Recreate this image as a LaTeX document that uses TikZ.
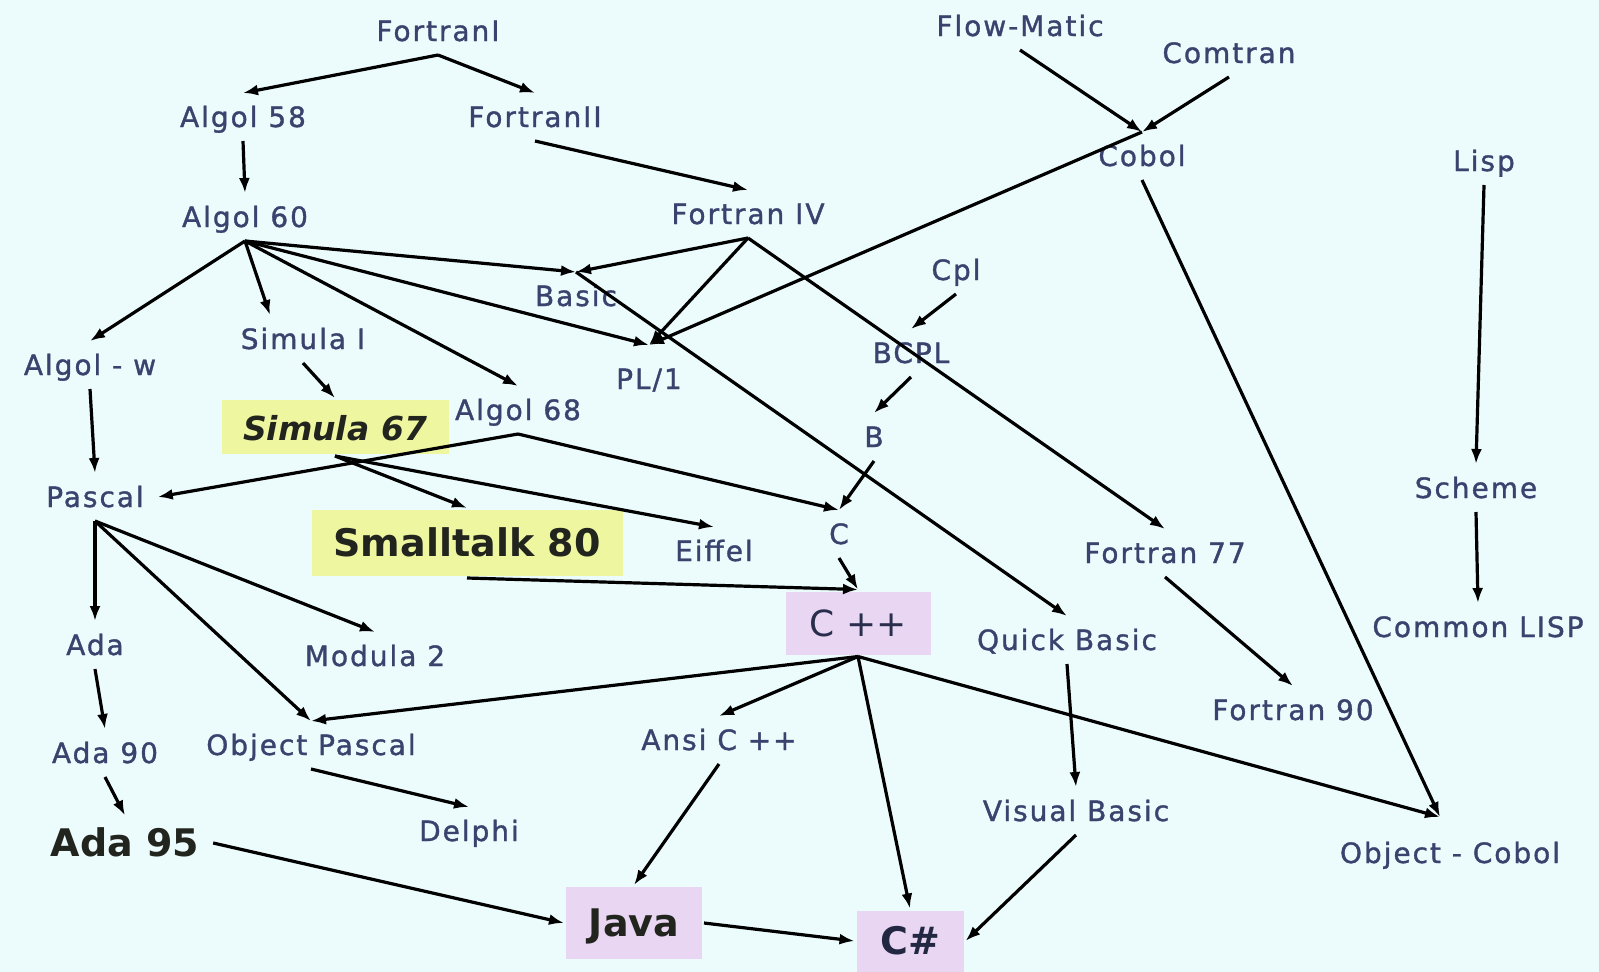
\documentclass[tikz,border=0pt]{standalone}
\usepackage{fontspec}
\setmainfont{DejaVu Sans}[LetterSpace=7,FakeBold=1.2]
\newfontfamily\plainfam{DejaVu Sans}[BoldFont={DejaVu Sans Bold},ItalicFont={DejaVu Sans Oblique},BoldItalicFont={DejaVu Sans Bold Oblique}]
\usetikzlibrary{arrows.meta,positioning}
\tikzset{>={Latex[length=15pt,width=11pt]}}
\definecolor{bgcyan}{RGB}{236,251,252}
\definecolor{langblue}{RGB}{58,66,110}
\definecolor{darktext}{RGB}{34,36,30}
\definecolor{hiyellow}{RGB}{238,246,160}
\definecolor{hililac}{RGB}{232,214,242}

\begin{document}
\begin{tikzpicture}[x=1pt,y=-1pt,
    lang/.style={text=langblue,font=\fontsize{28}{32}\selectfont,text height=20pt,text depth=0pt,inner sep=3pt,outer sep=11pt},
    hot/.style={text=darktext,font=\plainfam\bfseries\fontsize{38}{44}\selectfont,text height=27pt,text depth=0pt,inner sep=3pt,outer sep=11pt},
    boxed/.style={hot,fill=#1,inner sep=0pt,outer sep=2pt},
    link/.style={->,line width=3.2pt}]

        \path[use as bounding box,fill=bgcyan] (0,0) rectangle (1599,972);

        % nodes
        \node[lang] (f1) at (438,31) {FortranI};
        \node[lang] (a58) at (243,117) {Algol 58};
        \node[lang] (f2) at (535,117) {FortranII};
        \node[lang] (flow) at (1020,26) {Flow-Matic};
        \node[lang] (comtran) at (1229,53) {Comtran};
        \node[lang] (cobol) at (1142,156) {Cobol};
        \node[lang] (lisp) at (1484,161) {Lisp};
        \node[lang] (a60) at (245,217) {Algol 60};
        \node[lang] (f4) at (748,214) {Fortran IV};
        \node[lang] (cpl) at (956,270) {Cpl};
        \node[lang] (basic) at (576,296) {Basic};
        \node[lang] (algw) at (90,365) {Algol - w};
        \node[lang] (sim1) at (303,339) {Simula I};
        \node[lang] (pl1) at (649,379) {PL/1};
        \node[lang] (bcpl) at (911,353) {BCPL};
        \node[lang] (a68) at (518,410) {Algol 68};
        \node[boxed=hiyellow,minimum width=227pt,minimum height=54pt,font=\plainfam\bfseries\itshape\fontsize{33}{38}\selectfont] (sim67) at (335,427) {Simula 67};
        \node[lang] (b) at (874,437) {B};
        \node[lang] (pascal) at (95,497) {Pascal};
        \node[lang] (scheme) at (1476,488) {Scheme};
        \node[boxed=hiyellow,minimum width=311pt,minimum height=66pt] (st80) at (467,543) {Smalltalk 80};
        \node[lang] (eiffel) at (714,551) {Eiffel};
        \node[lang] (c) at (839,534) {C};
        \node[lang] (f77) at (1165,553) {Fortran 77};
        \node[boxed=hililac,minimum width=145pt,minimum height=63pt,font=\plainfam\fontsize{36}{42}\selectfont,text=langblue!70!black] (cpp) at (858,623) {C ++};
        \node[lang] (qbasic) at (1067,640) {Quick Basic};
        \node[lang] (clisp) at (1478,627) {Common LISP};
        \node[lang] (ada) at (95,645) {Ada};
        \node[lang] (mod2) at (375,656) {Modula 2};
        \node[lang] (f90) at (1293,710) {Fortran 90};
        \node[lang] (ada90) at (105,753) {Ada 90};
        \node[lang] (opascal) at (311,745) {Object Pascal};
        \node[lang] (ansi) at (719,740) {Ansi C ++};
        \node[lang] (vbasic) at (1076,811) {Visual Basic};
        \node[lang] (ocobol) at (1450,853) {Object - Cobol};
        \node[lang] (delphi) at (469,831) {Delphi};
        \node[hot] (ada95) at (125,843) {Ada 95};
        \node[boxed=hililac,minimum width=136pt,minimum height=72pt] (java) at (634,923) {Java};
        \node[boxed=hililac,minimum width=107pt,minimum height=61pt,text=langblue!60!black] (csharp) at (910,941) {C\#};

        % arrows
        \draw[link] (f1.south) -- (a58.north);
        \draw[link] (f1.south) -- (f2.north);
        \draw[link] (a58.south) -- (a60.north);
        \draw[link] (f2.south) -- (f4.north);
        \draw[link] (flow.south) -- (cobol.north);
        \draw[link] (comtran.south) -- (cobol.north);
        \draw[link] (cobol.north) -- ([yshift=10pt]pl1.north);
        \draw[link] (cobol.south) -- ([xshift=-10pt,yshift=12pt]ocobol.north);
        \draw[link] (lisp.south) -- (scheme.north);
        \draw[link] (scheme.south) -- (clisp.north);
        \foreach \t in {algw.north,basic.north,a68.north}
            \draw[link] (a60.south) -- (\t);
        \draw[link] (a60.south) -- ([xshift=-33pt]sim1.north);
        \draw[link] (a60.south) -- ([yshift=10pt]pl1.north);
        \draw[link] (f4.south) -- (basic.north);
        \draw[link] (f4.south) -- ([yshift=10pt]pl1.north);
        \draw[link] (f4.south) -- (f77.north);
        \draw[link] (basic.north) -- (qbasic.north);
        \draw[link] (cpl.south) -- (bcpl.north);
        \draw[link] (bcpl.south) -- (b.north);
        \draw[link] (b.south) -- (c.north);
        \draw[link] (sim1.south) -- (sim67.north);
        \draw[link] (sim67.south) -- (st80.north);
        \draw[link] (sim67.south) -- (eiffel.north);
        \draw[link] (a68.south) -- (pascal.east);
        \draw[link] (a68.south) -- (c.north);
        \draw[link] (st80.south) -- (cpp.north);
        \draw[link] (c.south) -- (cpp.north);
        \draw[link] (algw.south) -- (pascal.north);
        \foreach \t in {ada.north,mod2.north,opascal.north}
            \draw[link] (pascal.south) -- (\t);
        \draw[link] (ada.south) -- (ada90.north);
        \draw[link] (ada90.south) -- (ada95.north);
        \draw[link] (opascal.south) -- (delphi.north);
        \draw[link] (ada95.east) -- (java.west);
        \foreach \t in {opascal.north,ansi.north,csharp.north}
            \draw[link] (cpp.south) -- (\t);
        \draw[link] (cpp.south) -- ([xshift=-10pt,yshift=12pt]ocobol.north);
        \draw[link] (ansi.south) -- (java.north);
        \draw[link] (java.east) -- (csharp.west);
        \draw[link] (qbasic.south) -- (vbasic.north);
        \draw[link] (vbasic.south) -- (csharp.east);
        \draw[link] (f77.south) -- (f90.north);

    \end{tikzpicture}
\end{document}
